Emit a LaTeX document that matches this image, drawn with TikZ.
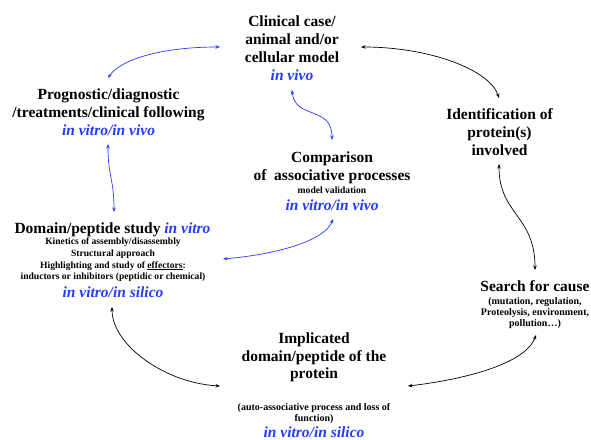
\documentclass[tikz,border=0pt]{standalone}
\usepackage{fontspec}
\setmainfont{Liberation Serif}
\usetikzlibrary{arrows.meta}
\definecolor{vblue}{RGB}{35,60,255}
\tikzset{
  head/.style={anchor=base,inner sep=0pt,font=\fontsize{15.5}{18}\selectfont\bfseries},
  sub/.style={anchor=base,inner sep=0pt,font=\fontsize{9.6}{11.5}\selectfont\bfseries},
  vit/.style={anchor=base,inner sep=0pt,text=vblue,font=\fontsize{15.5}{18}\selectfont\bfseries\itshape},
  link/.style={line width=0.7pt,{Stealth[length=4.5pt,width=3.5pt]}-{Stealth[length=4.5pt,width=3.5pt]}},
  blink/.style={link,draw=vblue},
  klink/.style={link,draw=black}
}
\begin{document}
\begin{tikzpicture}[x=1pt,y=-1pt]
\useasboundingbox (0,0) rectangle (591,439);
% Clinical case
\node[head] (cl1) at (292,26) {Clinical case/};
\node[head] (cl2) at (292,44) {animal and/or};
\node[head] (cl3) at (292,62) {cellular model};
\node[vit]  (cl4) at (292,80) {in vivo};
% Prognostic
\node[head] (pr1) at (108.5,99) {Prognostic/diagnostic};
\node[head] (pr2) at (108.5,117) {/treatments/clinical following};
\node[vit]  (pr3) at (108.5,135) {in vitro/in vivo};
% Identification
\node[head] (id1) at (499.5,119) {Identification of};
\node[head] (id2) at (499.5,137) {protein(s)};
\node[head] (id3) at (499.5,155) {involved};
% Comparison
\node[head] (co1) at (332,162) {Comparison};
\node[head] (co2) at (332,180) {of\ \ associative processes};
\node[sub]  (co3) at (332,193) {model validation};
\node[vit]  (co4) at (332,210) {in vitro/in vivo};
% Domain
\node[head] (do1) at (112.5,233) {Domain/peptide study \textcolor{vblue}{\itshape in vitro}};
\node[sub]  (do2) at (113,244) {Kinetics of assembly/disassembly};
\node[sub]  (do3) at (113,256.5) {Structural approach};
\node[sub]  (do4) at (113,268) {Highlighting and study of \underline{effectors}:};
\node[sub]  (do5) at (113,279.5) {inductors or inhibitors (peptidic or chemical)};
\node[vit]  (do6) at (113,297) {in vitro/in silico};
% Search
\node[head] (se1) at (535,291) {Search for cause};
\node[sub,font=\fontsize{10}{12}\selectfont\bfseries] (se2) at (535,304) {(mutation, regulation,};
\node[sub,font=\fontsize{10}{12}\selectfont\bfseries] (se3) at (535,315) {Proteolysis, environment,};
\node[sub,font=\fontsize{10}{12}\selectfont\bfseries] (se4) at (535,326) {pollution…)};
% Implicated
\node[head] (im1) at (314,343) {Implicated};
\node[head] (im2) at (314,361) {domain/peptide of the};
\node[head] (im3) at (314,378) {protein};
\node[sub,font=\fontsize{10}{12}\selectfont\bfseries] (im4) at (314,410) {(auto-associative process and loss of};
\node[sub,font=\fontsize{10}{12}\selectfont\bfseries] (im5) at (314,421) {function)};
\node[vit]  (im6) at (314,437) {in vitro/in silico};
% arrow end points
\coordinate (a1) at (108,78);   \coordinate (a2) at (220,47);
\coordinate (b1) at (108,144);  \coordinate (b2) at (114,212);
\coordinate (c1) at (292,90);   \coordinate (c2) at (332,140);
\coordinate (d1) at (333,219);  \coordinate (d2) at (223,259);
\coordinate (e1) at (361,47);   \coordinate (e2) at (499,98);
\coordinate (f1) at (499,164);  \coordinate (f2) at (535,270);
\coordinate (g1) at (536,335);  \coordinate (g2) at (408,386);
\coordinate (h1) at (112,307);  \coordinate (h2) at (220,386);
% blue connectors
\draw[blink] (a1) .. controls (120,60) and (160,47) .. (a2);
\draw[blink] (b1) .. controls (108,178) and (114,178) .. (b2);
\draw[blink] (c1) .. controls (295,120) and (332,105) .. (c2);
\draw[blink] (d1) .. controls (325,240) and (280,254) .. (d2);
% black connectors
\draw[klink] (e1) .. controls (430,47) and (490,70) .. (e2);
\draw[klink] (f1) .. controls (499,215) and (535,215) .. (f2);
\draw[klink] (g1) .. controls (525,365) and (460,380) .. (g2);
\draw[klink] (h1) .. controls (112,345) and (165,383) .. (h2);
\end{tikzpicture}
\end{document}
